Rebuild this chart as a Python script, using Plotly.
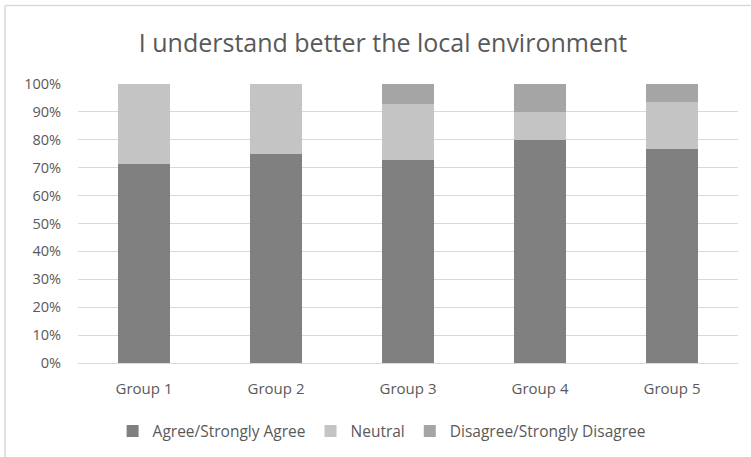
import plotly.graph_objects as go

groups = ["Group 1", "Group 2", "Group 3", "Group 4", "Group 5"]
agree = [71.4, 75.0, 72.7, 80.0, 76.7]
neutral = [28.6, 25.0, 20.0, 10.0, 16.7]
disagree = [0.0, 0.0, 7.3, 10.0, 6.6]

series = [
    ("Agree/Strongly Agree", agree, "#808080"),
    ("Neutral", neutral, "#c4c4c4"),
    ("Disagree/Strongly Disagree", disagree, "#a5a5a5"),
]

fig = go.Figure()
for name, vals, col in series:
    fig.add_trace(go.Bar(
        x=groups, y=[v / 100 for v in vals], name=name,
        marker=dict(color=col, line=dict(width=0)),
    ))

font_family = "Open Sans, Noto Sans, sans-serif"
fig.update_layout(
    width=751, height=457,
    barmode="stack", bargap=0.6,
    margin=dict(l=78, r=13, t=84, b=94, autoexpand=False),
    paper_bgcolor="white", plot_bgcolor="white",
    font=dict(family=font_family, color="#595959", size=14),
    title=dict(text="I understand better the local environment",
               x=383 / 751, xanchor="center", xref="container", y=1 - 43 / 457, yanchor="middle",
               font=dict(size=25, color="#595959", family=font_family)),
    xaxis=dict(showgrid=False, showline=True, linecolor="#d9d9d9", linewidth=1,
               ticks="", ticklabelstandoff=12, tickfont=dict(size=15, color="#595959")),
    yaxis=dict(range=[0, 1], tickvals=[i / 10 for i in range(11)], tickformat=".0%",
               showgrid=True, gridcolor="#d9d9d9", gridwidth=1, zeroline=False,
               showline=False, ticks="", ticklabelstandoff=16,
               tickfont=dict(size=14.5, color="#595959")),
    legend=dict(orientation="h", x=0.46, xanchor="center", y=-0.245, yanchor="middle",
                font=dict(size=15.5, color="#595959"), traceorder="normal"),
    shapes=[
        dict(type="line", xref="paper", yref="paper",
             x0=(5 - 78) / 660, x1=(760 - 78) / 660,
             y0=(363 - 5.5) / 279, y1=(363 - 5.5) / 279,
             line=dict(color="#d9d9d9", width=1.5)),
        dict(type="line", xref="paper", yref="paper",
             x0=(5 - 78) / 660, x1=(5 - 78) / 660,
             y0=(363 - 5.5) / 279, y1=(363 - 470) / 279,
             line=dict(color="#d9d9d9", width=1.5)),
    ],
)

fig.write_html("out.html")
